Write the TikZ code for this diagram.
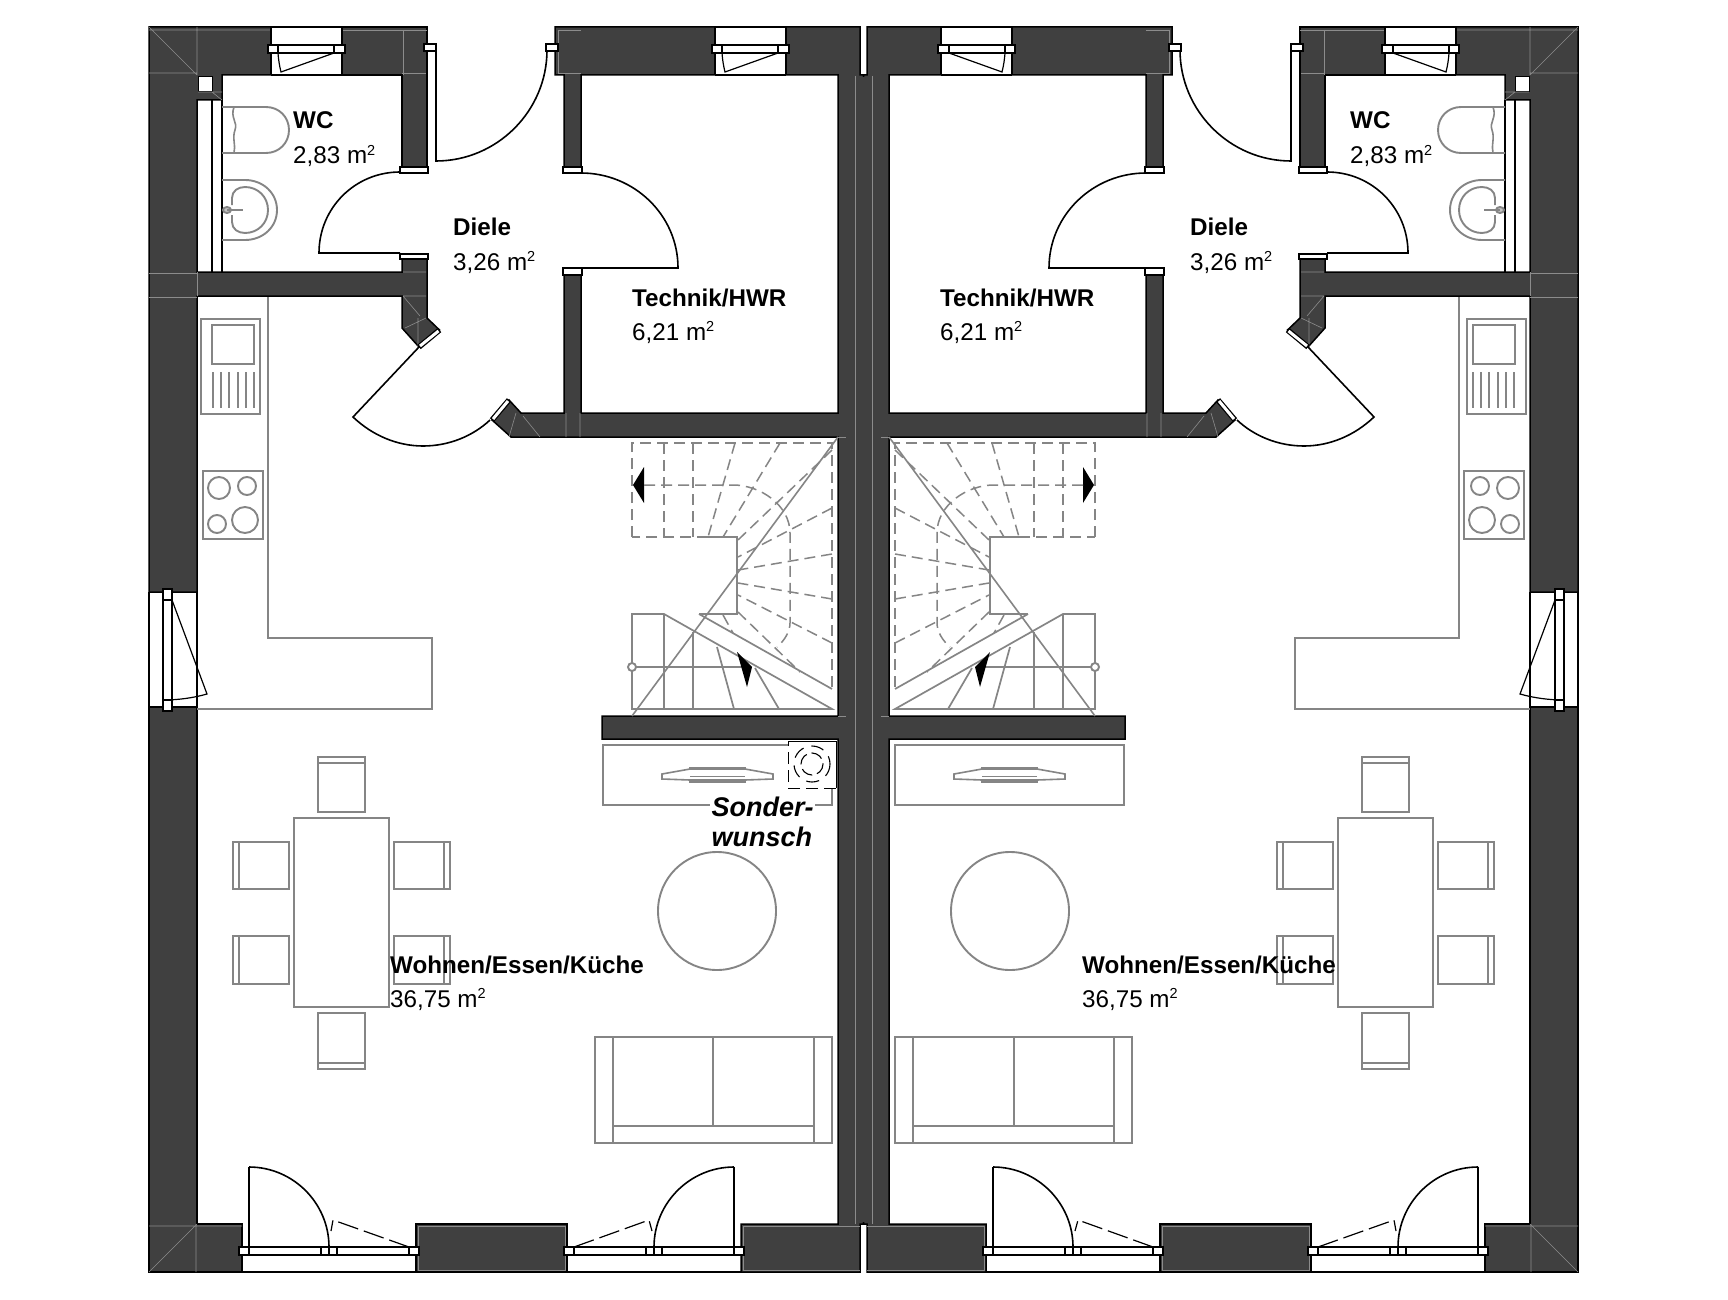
\documentclass[tikz,border=0pt]{standalone}
\usepackage{fontspec}
\setmainfont{Liberation Sans}
\definecolor{wallc}{HTML}{404040}
\definecolor{furn}{HTML}{858585}
\definecolor{seam}{HTML}{8C8C8C}
\tikzset{
  wall/.style={fill=wallc,draw=black,line width=1.5pt,line join=miter},
  seamline/.style={draw=seam,line width=.6pt},
  fur/.style={draw=furn,line width=1.9pt},
  furthin/.style={draw=furn,line width=1.6pt},
  stairdash/.style={draw=furn,line width=1.5pt,dash pattern=on 11pt off 6pt},
  stairsolid/.style={draw=furn,line width=1.7pt},
  blk/.style={draw=black,line width=1.6pt},
  blkthin/.style={draw=black,line width=1.2pt},
  sill/.style={draw=black,fill=white,line width=1.3pt},
  roomname/.style={anchor=base west,inner sep=0pt,font=\fontsize{24.2}{24}\selectfont\bfseries},
  roomarea/.style={anchor=base west,inner sep=0pt,font=\fontsize{24.2}{24}\selectfont},
  special/.style={anchor=north west,fill=white,inner sep=1.5pt,align=left,font=\fontsize{27}{30}\selectfont\bfseries\itshape}
}
\newcommand{\sqm}{m\raisebox{8.5pt}{\fontsize{14.5}{14}\selectfont 2}}
\newcommand{\topwindow}[1]{%
  % #1 = left x of opening; opening is 71 wide
  \begin{scope}[shift={(#1,0)}]
    \fill[white] (0,27) rectangle (71,75);
    \draw[blkthin] (0,27) -- (71,27);
    \draw[blkthin] (0,75) -- (71,75);
    \draw[blk] (0,27) -- (0,45) (71,27) -- (71,45) (0,53) -- (0,75) (71,53) -- (71,75);
    \draw[blk] (7,45) -- (64,45) (7,53) -- (64,53);
    \draw[sill] (-3,45) rectangle (7,53);
    \draw[sill] (63,45) rectangle (74,53);
    \draw[blkthin] (7,53) .. controls (7.5,60) and (8.5,66) .. (10,72) -- (63,53);
  \end{scope}}
\newcommand{\floordoor}[7]{%
  % frame from #1 to #2; verticals #3..#7
  \draw[blk,line width=1.9pt] (#1,1247) -- (#2,1247);
  \draw[blk] (#1,1255) -- (#2,1255);
  \draw[blk] (#3,1247) -- (#3,1255) (#4,1247) -- (#4,1255) (#5,1247) -- (#5,1255) (#6,1247) -- (#6,1255) (#7,1247) -- (#7,1255);
  \draw[blkthin] (#1,1272) -- (#2,1272);
}
\newcommand{\halfplan}{%
  % ---- wall bodies
  \draw[wall] (149,27) -- (271,27) -- (271,75) -- (222,75) -- (222,100) -- (197,100) -- (197,272) -- (402,272) -- (402,258) -- (427,258) -- (427,318) -- (439.5,330) -- (419,347) -- (402,328) -- (402,296) -- (197,296) -- (197,592) -- (149,592) -- cycle;
  \draw[wall] (342,27) -- (427,27) -- (427,167) -- (402,167) -- (402,75) -- (342,75) -- cycle;
  \draw[wall] (149,707) -- (197,707) -- (197,1224) -- (242,1224) -- (242,1272) -- (149,1272) -- cycle;
  \draw[wall] (416,1224) -- (567,1224) -- (567,1272) -- (416,1272) -- cycle;
  \draw[wall] (555,27) -- (860,27) -- (860,75) -- (863.5,75) -- (863.5,1224) -- (860,1224) -- (860,1272) -- (741,1272) -- (741,1224) -- (838,1224) -- (838,739) -- (602,739) -- (602,716) -- (838,716) -- (838,437) -- (511,437) -- (492,420) -- (509,400) -- (521,413) -- (564,413) -- (564,275) -- (581,275) -- (581,413) -- (838,413) -- (838,75) -- (581,75) -- (581,167) -- (564,167) -- (564,75) -- (555,75) -- cycle;
  % ---- seams in the walls
  \draw[seamline] (149,27) -- (197,75) (197,27) -- (197,75) (149,73) -- (197,73) (149,30) -- (271,30);
  \draw[seamline] (342,30) -- (427,30) (403,30) -- (403,75) (402,73) -- (427,73);
  \draw[seamline] (149,273) -- (197,273) (149,297) -- (197,297) (197,272) -- (197,296);
  \draw[seamline] (403,272) -- (426,272) (403,296) -- (426,296) (403,296) -- (420,316) (426,318) -- (405,328) (418,318) -- (418,346);
  \draw[seamline] (149,1272) -- (197,1224) (149,1226) -- (242,1226) (196,1224) -- (196,1272);
  \draw[seamline] (418,1226) rectangle (565,1270);
  \draw[seamline] (558,30) -- (581,30) (558,30) -- (558,73) -- (581,73);
  \draw[seamline] (743,1226) -- (860,1226) (743,1226) -- (743,1270) -- (860,1270);
  \draw[seamline] (566,413) -- (566,437) (580,413) -- (580,437) (509,437) -- (516,413) (523,416) -- (540,437);
  \draw[seamline] (838,437) -- (846,437) (838,716) -- (846,716);
  % ---- shaft in the WC
  \draw[sill,line width=.8pt] (198,76) rectangle (212,91);
  \draw[seamline] (212,92) -- (222,100) (198,92) -- (222,92);
  % ---- thin WC wall
  \draw[blk] (212,100) -- (212,272) (222,100) -- (222,272);
  % ---- windows
  \topwindow{271}
  \topwindow{715}
  \draw[blkthin] (149,592) -- (149,707) (197,592) -- (197,707);
  \draw[blk,line width=1.8pt] (163,600) -- (163,700) (172,600) -- (172,700);
  \draw[sill] (163,589) rectangle (172,600);
  \draw[sill] (163,700) rectangle (172,711);
  \draw[blkthin] (172,600) -- (207,694) .. controls (193,698) and (178,700) .. (163,700);
  % ---- terrace doors
  \floordoor{242}{416}{249}{321}{329}{337}{409}
  \floordoor{567}{741}{574}{646}{654}{662}{734}
  \draw[sill] (239,1247) rectangle (249,1255);
  \draw[sill] (409,1247) rectangle (419,1255);
  \draw[sill] (564,1247) rectangle (574,1255);
  \draw[sill] (734,1247) rectangle (744,1255);
  \draw[blkthin] (249,1247) -- (249,1167);
  \draw[blk] (249,1167) .. controls (293,1167) and (329,1203) .. (329,1247);
  \draw[blkthin,dash pattern=on 21pt off 6pt] (409,1247) -- (333,1220) -- (331,1231);
  \draw[blkthin] (734,1247) -- (734,1167);
  \draw[blk] (734,1167) .. controls (690,1167) and (654,1203) .. (654,1247);
  \draw[blkthin,dash pattern=on 21pt off 6pt] (574,1247) -- (649,1220) -- (652,1231);
  % ---- inner doors
  \draw[blk] (427,51) -- (427,167);
  \draw[blk] (436,51) -- (436,161) .. controls (497,161) and (547,111) .. (547,50);
  \draw[sill] (424,44) rectangle (436,51);
  \draw[sill] (546,44) rectangle (558,51);
  \draw[sill] (400,167) rectangle (428,173);
  \draw[sill] (400,254) rectangle (428,259);
  \draw[blk] (400,172) .. controls (355,172) and (319,208) .. (319,253) -- (400,253);
  \draw[sill] (563,167) rectangle (582,173);
  \draw[sill] (563,268) rectangle (582,275);
  \draw[blk] (581,173) .. controls (634,173) and (678,215) .. (678,268) -- (581,268);
  \draw[black,line width=5.5pt] (419,347) -- (439.5,330);
  \draw[white,line width=3pt] (420,346) -- (438.5,331);
  \draw[black,line width=5.5pt] (492,420) -- (509,400);
  \draw[white,line width=3pt] (493,419) -- (508,401);
  \draw[blk] (419,347) -- (353,417) .. controls (373,436) and (398,446) .. (423,446) .. controls (449,446) and (473,436) .. (490,420);
  % ---- kitchen
  \draw[fur] (268,297) -- (268,638) -- (432,638) -- (432,709) -- (197,709);
  \draw[fur] (201,319) rectangle (260,414);
  \draw[fur] (212,325) rectangle (254,364);
  \foreach \lx in {213,221,229,238,246,254} \draw[fur] (\lx,372) -- (\lx,408);
  \draw[fur] (203,471) rectangle (263,539);
  \draw[fur] (219,488) circle (11);
  \draw[fur] (247,486) circle (9);
  \draw[fur] (217,524) circle (9);
  \draw[fur] (245,520) circle (13);
  % ---- WC fittings
  \draw[fur] (222,107) -- (266,107) .. controls (279,107) and (289,117) .. (289,130) .. controls (289,143) and (279,153) .. (266,153) -- (222,153);
  \draw[furthin] (234,107) .. controls (230,118) and (238,122) .. (235,130) .. controls (232,138) and (236,146) .. (234,153);
  \draw[fur] (222,180) -- (245,180) .. controls (263,180) and (277,193) .. (277,210) .. controls (277,227) and (263,240) .. (245,240) -- (222,240);
  \draw[fur] (232,205) -- (232,198) .. controls (232,191) and (238,187) .. (245,187) .. controls (258,187) and (268,197) .. (268,210) .. controls (268,223) and (258,233) .. (245,233) .. controls (238,233) and (232,229) .. (232,222) -- (232,215);
  \draw[fur,fill=furn!50] (227,210) ellipse (4 and 3);
  \draw[fur] (227,210) -- (243,210);
  % ---- stairs
  \draw[stairdash] (632,537) -- (632,443) -- (832,443) -- (832,690);
  \draw[stairdash] (708,537) -- (632,537);
  \draw[stairsolid] (708,537) -- (737,537) -- (737,614) -- (699,614);
  \draw[stairsolid] (632,709) -- (632,614) -- (664,614) -- (832,709) -- cycle;
  \draw[stairsolid] (664,614) -- (664,709) (693,632) -- (693,709) (717,647) -- (734,709) (755,668) -- (779,709);
  \draw[stairsolid] (699,614) -- (832,689);
  \draw[furthin] (632,716) -- (838,437);
  \draw[stairsolid] (636,667) -- (742,667);
  \draw[fur,fill=white] (632,667) circle (4);
  \fill[black] (747,687) -- (737,652) -- (752,667) -- cycle;
  \fill[black] (633,485) -- (644,467) -- (644,503) -- cycle;
  \draw[stairdash] (664,443) -- (664,537) (693,443) -- (693,537);
  \draw[stairdash] (644,485) -- (733,485) .. controls (760,485) and (790,505) .. (790,533) -- (790,623) .. controls (790,632) and (784,641) .. (777,647);
  \draw[stairdash] (735,443) -- (708,537) (780,443) -- (723,537) (832,450) -- (738,540) (832,508) -- (738,557) (832,554) -- (738,570) (832,599) -- (738,583) (832,643) -- (738,595) (738,612) -- (800,672) (723,615) -- (733,633);
  % ---- cabinet
  \draw[fur] (603,745) rectangle (832,805);
  \draw[furthin,fill=white] (690,768) rectangle (745,782);
  \draw[furthin,fill=white] (662,774) -- (690,769) -- (745,769) -- (773,774) -- (773,779) -- (745,780) -- (690,780) -- (662,779) -- cycle;
  \draw[furthin] (690,776.5) -- (745,776.5);
  % ---- dining table
  \draw[fur] (294,818) rectangle (389,1007);
  \draw[fur] (318,757) rectangle (365,812) (318,763) -- (365,763);
  \draw[fur] (318,1013) rectangle (365,1069) (318,1063) -- (365,1063);
  \draw[fur] (233,842) rectangle (289,889) (239,842) -- (239,889);
  \draw[fur] (233,936) rectangle (289,984) (239,936) -- (239,984);
  \draw[fur] (394,842) rectangle (450,889) (444,842) -- (444,889);
  \draw[fur] (394,936) rectangle (450,984) (444,936) -- (444,984);
  % ---- round table and sofa
  \draw[fur] (717,911) circle (59);
  \draw[fur] (595,1037) rectangle (832,1143);
  \draw[fur] (613,1037) -- (613,1143) (814,1037) -- (814,1143) (713,1037) -- (713,1126) (613,1126) -- (814,1126);
}
\begin{document}
\begin{tikzpicture}[x=1pt,y=-1pt]
  \useasboundingbox (0,0) rectangle (1728,1300);
  \fill[white] (0,0) rectangle (1728,1300);
  \halfplan
  \begin{scope}[xshift=1727pt,xscale=-1]
    \halfplan
  \end{scope}
  % centre wall, without the seam where the halves meet
  \fill[wallc] (850,77) rectangle (877,1222);
  \draw[seamline] (855,76) -- (855,1224) (872,76) -- (872,1224);
  \fill[white] (860.6,1226) rectangle (866.4,1274);
  \fill[white] (860.6,25) rectangle (866.4,74);
  % chimney, left half only
  \fill[white] (788,741) rectangle (836,788);
  \draw[black,line width=.9pt] (788,741) -- (836,741) -- (836,788);
  \draw[black,line width=.9pt,dash pattern=on 12pt off 6pt] (836,788) -- (788,788) -- (788,741);
  \draw[black,line width=1.1pt,dash pattern=on 12pt off 5pt] (812,764) circle (11);
  \draw[black,line width=1.1pt,dash pattern=on 13pt off 8pt] (812,764) circle (18);
  % labels
  \node[roomname] (wcL) at (293,129) {WC};
  \node[roomarea] (wcLa) at (293,164) {2,83 \sqm};
  \node[roomname] (dieleL) at (453,235) {Diele};
  \node[roomarea] (dieleLa) at (453,270) {3,26 \sqm};
  \node[roomname] (techL) at (632,306) {Technik/HWR};
  \node[roomarea] (techLa) at (632,340) {6,21 \sqm};
  \node[roomname] (wohnL) at (390,973) {Wohnen/Essen/Küche};
  \node[roomarea] (wohnLa) at (390,1007) {36,75 \sqm};
  \node[roomname] (wcR) at (1350,129) {WC};
  \node[roomarea] (wcRa) at (1350,164) {2,83 \sqm};
  \node[roomname] (dieleR) at (1190,235) {Diele};
  \node[roomarea] (dieleRa) at (1190,270) {3,26 \sqm};
  \node[roomname] (techR) at (940,306) {Technik/HWR};
  \node[roomarea] (techRa) at (940,340) {6,21 \sqm};
  \node[roomname] (wohnR) at (1082,973) {Wohnen/Essen/Küche};
  \node[roomarea] (wohnRa) at (1082,1007) {36,75 \sqm};
  \node[special] (sonder) at (710,795.5) {Sonder-\\wunsch};
\end{tikzpicture}
\end{document}
